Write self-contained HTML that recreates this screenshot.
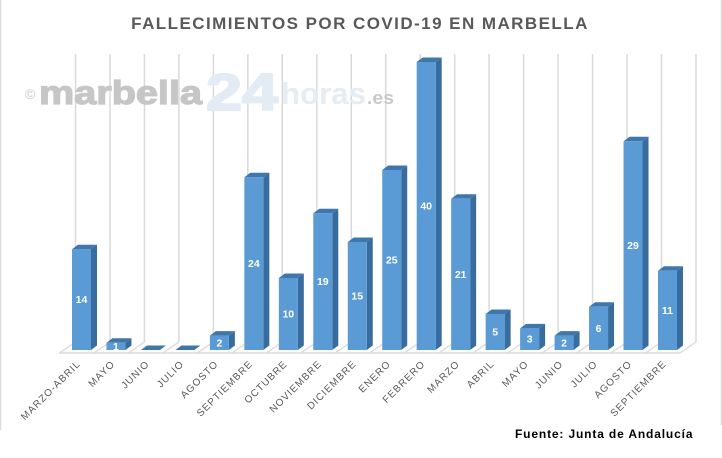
<!DOCTYPE html>
<html>
<head>
<meta charset="utf-8">
<title>Fallecimientos por COVID-19 en Marbella</title>
<style>
html,body{margin:0;padding:0;background:#fff;width:722px;height:458px;overflow:hidden}
svg{display:block;font-family:"Liberation Sans",sans-serif}
</style>
</head>
<body>
<svg id="chart" width="722" height="458" viewBox="0 0 722 458" xmlns="http://www.w3.org/2000/svg">
  <rect width="722" height="458" fill="#fff"/>
  <line x1="0.5" y1="0" x2="0.5" y2="430" stroke="#dcdcdc" stroke-width="1.5"/>
  <line x1="721.5" y1="0" x2="721.5" y2="425" stroke="#dcdcdc" stroke-width="1.5"/>
  <g id="grid"></g>
  <g>
    <text x="25" y="99" font-size="14" font-weight="bold" fill="#d2d2d2">©</text>
    <text x="39" y="104" font-size="33" font-weight="bold" fill="#c6c6c6" stroke="#c6c6c6" stroke-width="1.2" textLength="163" lengthAdjust="spacingAndGlyphs">marbella</text>
    <text x="206" y="110" font-size="52" font-weight="bold" fill="#e3ecf5" stroke="#e3ecf5" stroke-width="2" textLength="72" lengthAdjust="spacingAndGlyphs">24</text>
    <text x="281" y="104" font-size="31" font-weight="bold" fill="#e4ecf4" textLength="85" lengthAdjust="spacingAndGlyphs">horas</text>
    <text x="367" y="104" font-size="18" font-weight="bold" fill="#c9c9c9" textLength="27" lengthAdjust="spacingAndGlyphs">.es</text>
  </g>
  <g id="bars"></g>
  <g id="ticks"></g>
  <text x="360" y="29" text-anchor="middle" font-size="17" font-weight="bold" fill="#595959" letter-spacing="1.45">FALLECIMIENTOS POR COVID-19 EN MARBELLA</text>
  <text x="515" y="438" font-size="12" font-weight="bold" fill="#000" letter-spacing="0.85">Fuente: Junta de Andalucía</text>
</svg>
<script>
const categories = ["MARZO-ABRIL","MAYO","JUNIO","JULIO","AGOSTO","SEPTIEMBRE","OCTUBRE","NOVIEMBRE","DICIEMBRE","ENERO","FEBRERO","MARZO","ABRIL","MAYO","JUNIO","JULIO","AGOSTO","SEPTIEMBRE"];
const deaths = [14,1,0,0,2,24,10,19,15,25,40,21,5,3,2,6,29,11];

const NS = "http://www.w3.org/2000/svg";
const X0 = 72, STEP = 34.47, BAR_W = 19, DX = 6, DY = 4.5;
const BASE = 350, UNIT = 7.2, TOP = 54, FLOOR_Y = 353;
const xAt = i => X0 + STEP * i;
const yAt = v => BASE - UNIT * v;
function mk(tag, attrs, parent) {
  const el = document.createElementNS(NS, tag);
  for (const k in attrs) el.setAttribute(k, attrs[k]);
  parent.appendChild(el);
  return el;
}
const grid = document.getElementById("grid");
const bars = document.getElementById("bars");
const ticks = document.getElementById("ticks");

for (let i = 0; i <= categories.length; i++) {
  const bx = xAt(i) + 3.5, fx = bx - 16;
  const v = mk("line", {x1: bx, y1: TOP, x2: bx, y2: FLOOR_Y - 11, stroke: "#d9d9d9", "stroke-width": 1.5}, grid);
  
  
  const d = mk("line", {x1: bx, y1: FLOOR_Y - 11, x2: fx, y2: FLOOR_Y, stroke: "#dedede", "stroke-width": 1.5}, grid);
  
  
}
const floor = mk("line", {x1: xAt(0) - 13, y1: FLOOR_Y, x2: xAt(categories.length) - 12.5, y2: FLOOR_Y, stroke: "#dcdcdc", "stroke-width": 1.6}, grid);



categories.forEach((name, i) => {
  const v = deaths[i], x = xAt(i), y = yAt(v), g = mk("g", {}, bars);
  
  
  const r = x + BAR_W;
  mk("polygon", {points: `${r},${y} ${r + DX},${y - DY} ${r + DX},${BASE - DY} ${r},${BASE}`, fill: "#386c9e"}, g);
  mk("polygon", {points: `${x},${y} ${x + DX},${y - DY} ${r + DX},${y - DY} ${r},${y}`, fill: "#3f76ab"}, g);
  if (v > 0) {
    mk("rect", {x: x, y: y, width: BAR_W, height: BASE - y, fill: "#5b9bd5"}, g);
    const t = mk("text", {x: x + BAR_W / 2, y: (y + BASE) / 2 + 3.5, "text-anchor": "middle", "font-size": 10.5, "font-weight": "bold", fill: "#fff"}, g);
    t.textContent = v;
    
    
  }
  const tx = x + 9, ty = 364.5;
  const l = mk("text", {x: tx, y: ty, transform: `rotate(-45 ${tx} ${ty})`, "text-anchor": "end", "font-size": 10, fill: "#595959", "letter-spacing": 1}, ticks);
  l.textContent = name;
  
  
});
</script>
</body>
</html>
